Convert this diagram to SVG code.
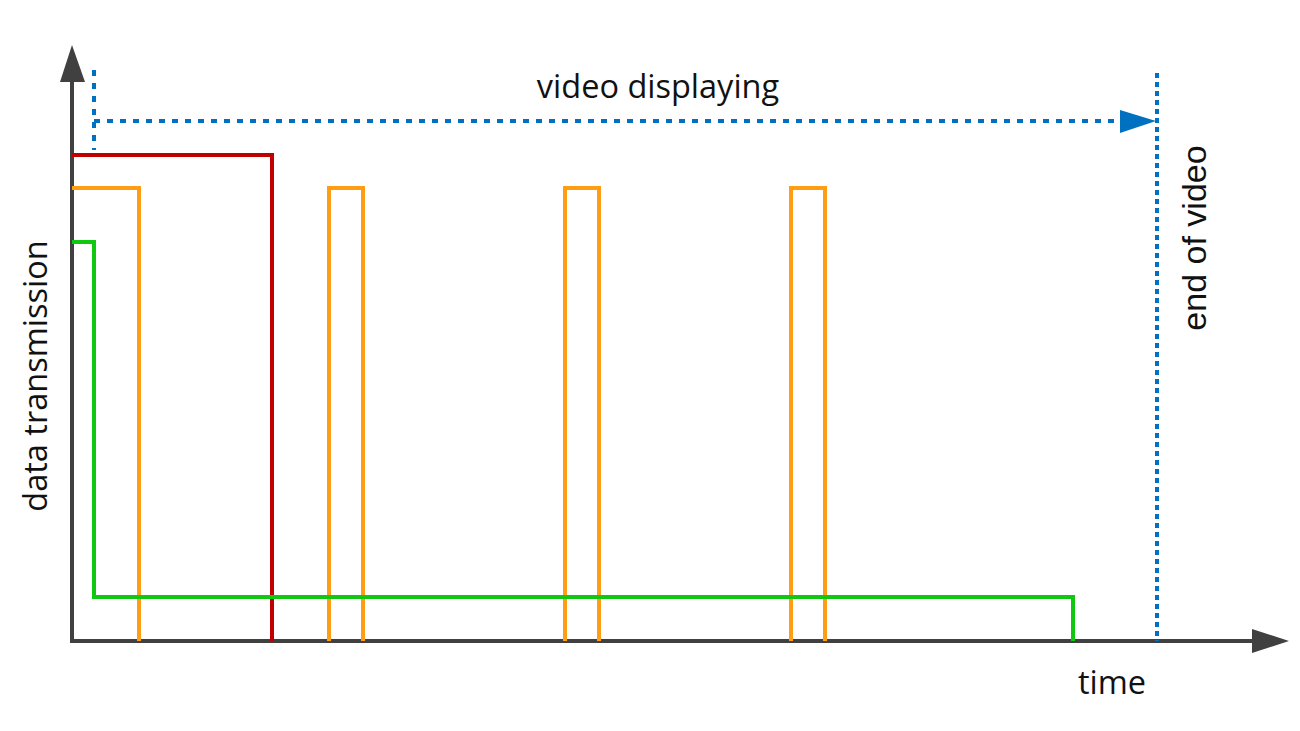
<svg xmlns="http://www.w3.org/2000/svg" width="1300" height="731" viewBox="0 0 1300 731">
<style>
.axis{stroke:#404040;stroke-width:4;fill:none}
.red{stroke:#C00000;stroke-width:4;fill:none}
.org{stroke:#FF9E12;stroke-width:4;fill:none}
.grn{stroke:#10C810;stroke-width:4;fill:none}
.dash{stroke:#0070C0;stroke-width:4;fill:none;stroke-dasharray:6 7}
.dot{stroke:#0070C0;stroke-width:4;fill:none;stroke-dasharray:5 4}
.lbl{font-family:"Open Sans","Noto Sans",sans-serif;fill:#111;font-size:32.5px}
.lbl2{font-family:"Liberation Sans",Arial,sans-serif;fill:#111;font-size:34px}
</style>
<rect width="1300" height="731" fill="#fff"/>
<g id="axes">
<path class="axis" d="M72,80 V641 H1254"/>
<polygon points="72,45 60,82 85,82" fill="#404040"/>
<polygon points="1289,641 1252,629 1252,653" fill="#404040"/>
</g>
<g id="signals">
<path class="red" d="M72,155 H272 V641"/>
<path class="org" d="M72,188 H139 V641"/>
<path class="org" d="M329,641 V188 H363 V641"/>
<path class="org" d="M565,641 V188 H599 V641"/>
<path class="org" d="M791,641 V188 H825 V641"/>
<path class="grn" d="M72,242 H94 V597 H1073 V641"/>
</g>
<g id="connectors">
<path class="dash" d="M94,70 V150"/>
<path class="dash" d="M94,121 H1122"/>
<polygon points="1156,121 1120,110 1120,133" fill="#0070C0"/>
<path class="dot" d="M1157,73 V641"/>
</g>
<g id="labels">
<text class="lbl" x="658" y="98" text-anchor="middle">video displaying</text>
<text class="lbl" x="1112" y="694" text-anchor="middle">time</text>
<text class="lbl" transform="translate(47,376) rotate(-90)" text-anchor="middle">data transmission</text>
<text class="lbl2" transform="translate(1206,238) rotate(-90)" text-anchor="middle">end of video</text>
</g>
</svg>
